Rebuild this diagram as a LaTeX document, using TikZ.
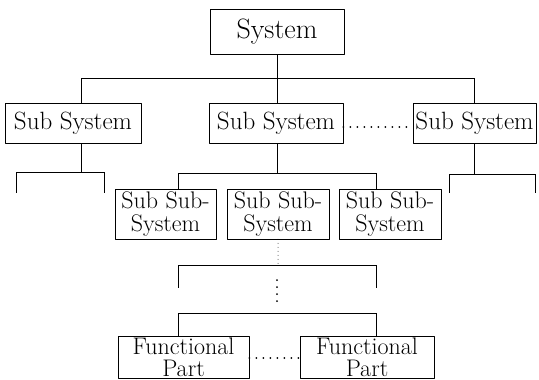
\documentclass[tikz,border=0pt]{standalone}
\usepackage{fontspec}
\begin{document}
\begin{tikzpicture}[x=1pt, y=-1pt, line join=round, line width=0.7pt,
  box/.style={draw, inner sep=0pt, align=center, font=\fontsize{25}{23}\selectfont},
  bigdots/.style={line width=2pt, line cap=round, dash pattern=on 0pt off 7pt},
  smalldots/.style={line width=0.8pt, line cap=round, dash pattern=on 0pt off 4pt}]
\useasboundingbox (0,0) rectangle (539,380);
\def\sh{40pt}\def\ssh{50pt}
\node[box, minimum width=134pt, minimum height=45pt, font=\fontsize{28}{28}\selectfont] (sys) at (277,31.5) {System};
\node[box, minimum width=136pt, minimum height=\sh] (s1) at (73,123) {Sub System};
\node[box, minimum width=134pt, minimum height=\sh] (s2) at (276,123) {Sub System};
\node[box, minimum width=123pt, minimum height=\sh] (s3) at (474.5,123) {Sub System};
\node[box, minimum width=101pt, minimum height=\ssh, font=\fontsize{24}{23}\selectfont] (ss1) at (165.5,214) {Sub Sub-\\System};
\node[box, minimum width=102pt, minimum height=\ssh, font=\fontsize{24}{23}\selectfont] (ss2) at (278,214) {Sub Sub-\\System};
\node[box, minimum width=102pt, minimum height=\ssh, font=\fontsize{24}{23}\selectfont] (ss3) at (390,214) {Sub Sub-\\System};
\node[box, minimum width=131pt, minimum height=42pt, font=\fontsize{24}{22}\selectfont] (f1) at (183.5,357.5) {Functional\\Part};
\node[box, minimum width=134pt, minimum height=42pt, font=\fontsize{24}{22}\selectfont] (f2) at (367,357.5) {Functional\\Part};
\path (81,78) coordinate (a1) (277,78) coordinate (a2) (474,78) coordinate (a3)
  (16,172) coordinate (b1) (104,172) coordinate (b2)
  (178,173) coordinate (c1) (376,173) coordinate (c2)
  (449,174) coordinate (d1) (535,174) coordinate (d2)
  (178,265) coordinate (e1) (376,265) coordinate (e2)
  (178,313) coordinate (g1) (376,313) coordinate (g2);
\draw (sys.south) -- (a2) (a1) -- (a3);
\draw (a1) -- (a1 |- s1.north) (a2) -- (a2 |- s2.north) (a3) -- (a3 |- s3.north);
\draw (a1 |- s1.south) -- (a1 |- b1) (b1) -- (b2) (b1) -- ++(0,21) (b2) -- ++(0,21);
\draw (a2 |- s2.south) -- (a2 |- c1) (c1) -- (c2) (c1) -- (c1 |- ss1.north) (c2) -- (c2 |- ss3.north);
\draw (a3 |- s3.south) -- (a3 |- d1) (d1) -- (d2) (d1) -- ++(0,19) (d2) -- ++(0,19);
\draw[smalldots] (ss2.south) -- (ss2.south |- e1);
\draw (e1) -- (e2) (e1) -- ++(0,23) (e2) -- ++(0,23);
\draw[bigdots] (277,280) -- (277,308);
\draw (g1) -- (g2) (g1) -- (g1 |- f1.north) (g2) -- (g2 |- f2.north);
\draw[bigdots] (s2.east |- 0,127) -- (s3.west |- 0,127);
\draw[bigdots] (f1.east |- 0,358) -- (f2.west |- 0,358);
\end{tikzpicture}
\end{document}
